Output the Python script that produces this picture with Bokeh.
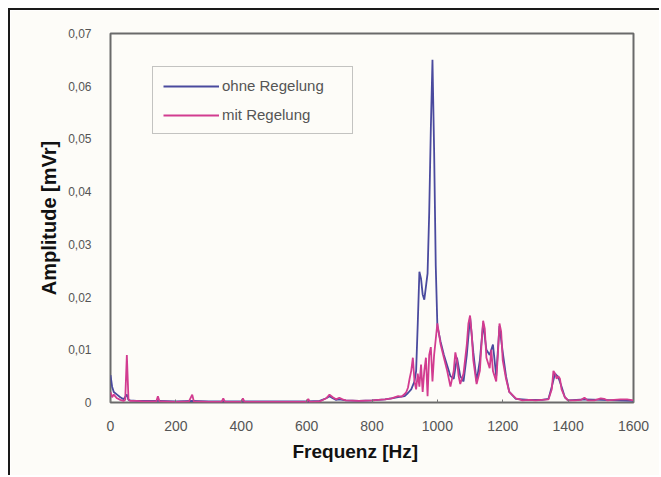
from bokeh.plotting import figure
from bokeh.models import FixedTicker, Range1d, Legend, LegendItem, Title
from bokeh.embed import file_html
from bokeh.resources import INLINE

# ---- data ----
freq_ohne = [0, 5, 10, 20, 30, 40, 50, 55, 60, 80,
             100, 150, 200, 250, 300, 350, 400, 450, 500, 550,
             600, 640, 660, 670, 680, 690, 700, 720, 760, 800,
             840, 860, 880, 900, 910, 920, 930, 935, 940, 945,
             950, 955, 960, 965, 970, 975, 980, 985, 990, 995,
             1000, 1010, 1020, 1030, 1040, 1050, 1060, 1070, 1080, 1090,
             1100, 1110, 1120, 1130, 1140, 1150, 1160, 1170, 1180, 1190,
             1200, 1210, 1220, 1240, 1280, 1320, 1340, 1350, 1360, 1370,
             1380, 1390, 1400, 1450, 1500, 1550, 1600]
amp_ohne = [0.0052, 0.003, 0.002, 0.0015, 0.001, 0.0006, 0.0015, 0.0005, 0.0004, 0.0003,
            0.0003, 0.0003, 0.0002, 0.0003, 0.0002, 0.0002, 0.0002, 0.0002, 0.0002, 0.0002,
            0.0002, 0.0003, 0.0008, 0.0012, 0.0008, 0.0005, 0.0006, 0.0004, 0.0003, 0.0004,
            0.0006, 0.0008, 0.001, 0.0012, 0.0018, 0.0025, 0.004, 0.006, 0.015, 0.0248,
            0.0235, 0.0205, 0.0195, 0.022, 0.0245, 0.036, 0.052, 0.065, 0.048, 0.026,
            0.0145, 0.0115, 0.009, 0.007, 0.005, 0.0045, 0.0085, 0.005, 0.004, 0.009,
            0.0162, 0.0095, 0.004, 0.008, 0.015, 0.010, 0.009, 0.011, 0.005, 0.0145,
            0.0095, 0.005, 0.002, 0.0007, 0.0005, 0.0005, 0.0007, 0.003, 0.0055, 0.0048,
            0.003, 0.001, 0.0004, 0.0006, 0.0005, 0.0004, 0.0003]

freq_mit = [0, 5, 10, 20, 30, 40, 45, 50, 55, 60,
            80, 100, 140, 145, 150, 155, 200, 240, 250, 255,
            300, 340, 345, 350, 400, 405, 410, 450, 500, 550,
            600, 605, 610, 640, 660, 670, 680, 690, 700, 710,
            720, 760, 800, 840, 860, 880, 890, 900, 905, 910,
            915, 920, 925, 930, 935, 940, 945, 950, 955, 960,
            965, 970, 975, 980, 985, 990, 995, 1000, 1005, 1010,
            1020, 1030, 1040, 1050, 1055, 1060, 1065, 1070, 1080, 1090,
            1095, 1100, 1105, 1110, 1120, 1130, 1135, 1140, 1145, 1150,
            1160, 1165, 1170, 1180, 1185, 1190, 1195, 1200, 1210, 1220,
            1240, 1260, 1280, 1300, 1320, 1340, 1350, 1355, 1360, 1365,
            1370, 1375, 1380, 1390, 1400, 1420, 1440, 1450, 1460, 1480,
            1500, 1510, 1520, 1540, 1560, 1580, 1600]
amp_mit = [0.002, 0.001, 0.0015, 0.0008, 0.0005, 0.0003, 0.0005, 0.009, 0.0006, 0.0003,
           0.0003, 0.0002, 0.0002, 0.0012, 0.0002, 0.0002, 0.0001, 0.0002, 0.0015, 0.0002,
           0.0001, 0.0001, 0.0008, 0.0001, 0.0001, 0.0008, 0.0001, 0.0001, 0.0001, 0.0001,
           0.0001, 0.0007, 0.0001, 0.0002, 0.0008, 0.0015, 0.001, 0.0006, 0.0009, 0.0006,
           0.0004, 0.0003, 0.0004, 0.0006, 0.0008, 0.0012, 0.0011, 0.0016, 0.002, 0.0028,
           0.0045, 0.006, 0.0085, 0.004, 0.0025, 0.0055, 0.003, 0.0072, 0.002, 0.006,
           0.0085, 0.0012, 0.009, 0.0105, 0.004, 0.009, 0.012, 0.015, 0.013, 0.011,
           0.0085, 0.006, 0.003, 0.006, 0.0095, 0.008, 0.005, 0.0035, 0.0055, 0.011,
           0.015, 0.0165, 0.013, 0.008, 0.0035, 0.006, 0.011, 0.0155, 0.014, 0.0085,
           0.0065, 0.01, 0.006, 0.004, 0.009, 0.015, 0.0135, 0.008, 0.0045, 0.002,
           0.0008, 0.0004, 0.0005, 0.0004, 0.0005, 0.0006, 0.0025, 0.006, 0.0055, 0.0045,
           0.005, 0.0045, 0.0025, 0.001, 0.0004, 0.0004, 0.0005, 0.0009, 0.0004, 0.0004,
           0.0008, 0.0007, 0.0004, 0.0005, 0.0006, 0.0006, 0.0004]

x_ticks = [0, 200, 400, 600, 800, 1000, 1200, 1400, 1600]
y_ticks = [0, 0.01, 0.02, 0.03, 0.04, 0.05, 0.06, 0.07]
y_tick_labels = ["0", "0,01", "0,02", "0,03", "0,04", "0,05", "0,06", "0,07"]
series_names = ["ohne Regelung", "mit Regelung"]
x_title = "Frequenz [Hz]"
y_title = "Amplitude [mVr]"

BG = "#fdfcf8"
BLUE = "#4a4a9e"
PINK = "#d23c90"

p = figure(width=651, height=467, output_backend="svg", toolbar_location=None,
           x_range=Range1d(0, 1600), y_range=Range1d(0, 0.07),
           min_border_left=100, min_border_top=23, min_border_right=28,
           min_border_bottom=75,
           background_fill_color=BG, border_fill_color=BG)
p.styles = {"border-left": "2px solid #1a1a1a", "border-top": "2px solid #1a1a1a",
            "margin-left": "8px", "margin-top": "8px"}

p.outline_line_color = "#6a6a6a"
p.outline_line_width = 2
p.xgrid.visible = False
p.ygrid.visible = False

r_ohne = p.line(freq_ohne, amp_ohne, line_color=BLUE, line_width=1.8)
r_mit = p.line(freq_mit, amp_mit, line_color=PINK, line_width=1.8)

# axes
p.xaxis.ticker = FixedTicker(ticks=x_ticks)
p.yaxis.ticker = FixedTicker(ticks=y_ticks)
p.yaxis.major_label_overrides = {t: s for t, s in zip(y_ticks, y_tick_labels)}
for ax in (p.xaxis[0], p.yaxis[0]):
    ax.axis_line_color = None
    ax.minor_tick_line_color = None
    ax.major_label_text_font = "Liberation Sans"
    ax.major_label_text_color = "#555555"
p.xaxis.major_label_text_font_size = "14px"
p.yaxis.major_label_text_font_size = "12px"
p.xaxis.major_tick_in = 3
p.xaxis.major_tick_out = 0
p.xaxis.major_tick_line_color = "#777777"
p.yaxis.major_tick_in = 0
p.yaxis.major_tick_out = 0
p.yaxis.major_label_standoff = 19
p.xaxis.major_label_standoff = 18

p.add_layout(Title(text=x_title, align="left", offset=182,
                   text_font="Liberation Sans", text_font_style="bold",
                   text_font_size="19px", text_color="#111111", standoff=10), "below")
p.add_layout(Title(text=y_title, align="center", offset=16,
                   text_font="Liberation Sans", text_font_style="bold",
                   text_font_size="20px", text_color="#111111", standoff=11), "left")

legend = Legend(items=[LegendItem(label=series_names[0], renderers=[r_ohne]),
                       LegendItem(label=series_names[1], renderers=[r_mit])],
                location=(42, 268), orientation="vertical",
                background_fill_color=BG, border_line_color="#8a8a8a",
                border_line_width=1.5, label_text_font="Liberation Sans",
                label_text_font_size="15px", label_text_color="#555555",
                glyph_width=56, glyph_height=16, label_height=16, label_width=120,
                spacing=12, padding=10, label_standoff=3, margin=0)
p.add_layout(legend, "center")

open("out.html", "w").write(file_html(p, INLINE))
